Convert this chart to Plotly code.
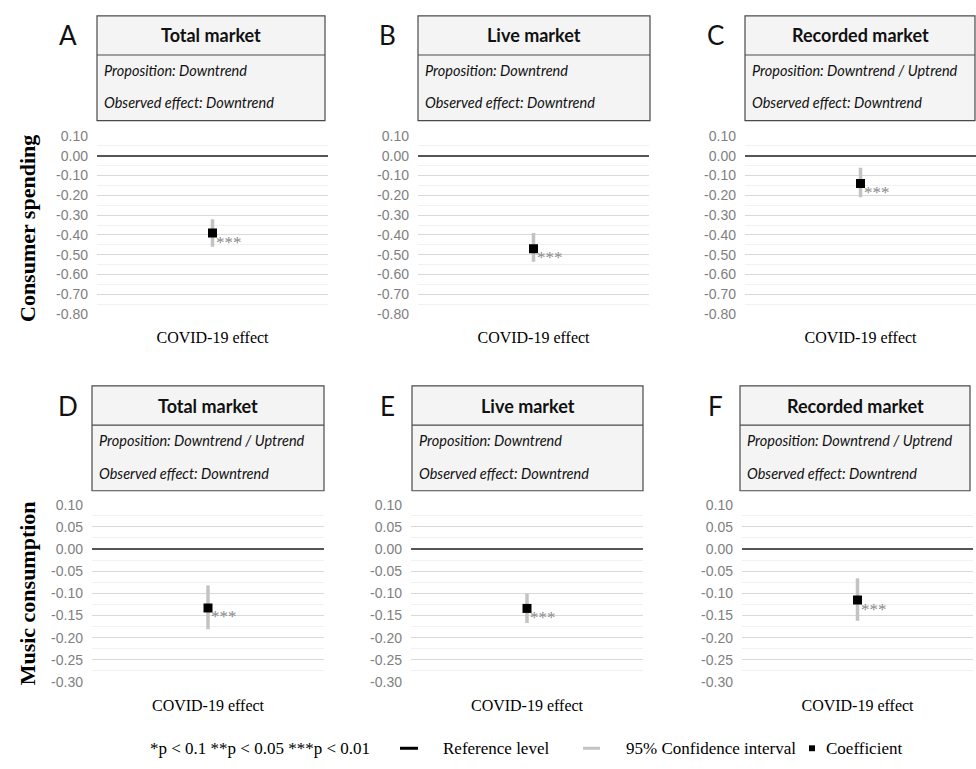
import plotly.graph_objects as go

# ---------------- data ----------------
panel_letters = ["A", "B", "C", "D", "E", "F"]
market_titles = ["Total market", "Live market", "Recorded market",
                 "Total market", "Live market", "Recorded market"]
propositions = ["Downtrend", "Downtrend", "Downtrend / Uptrend",
                "Downtrend / Uptrend", "Downtrend", "Downtrend / Uptrend"]
observed_effects = ["Downtrend", "Downtrend", "Downtrend",
                    "Downtrend", "Downtrend", "Downtrend"]
category = ["COVID-19 effect"]
coefficients = [-0.39, -0.47, -0.14, -0.133, -0.134, -0.115]
ci_low = [-0.46, -0.535, -0.21, -0.181, -0.167, -0.162]
ci_high = [-0.32, -0.39, -0.06, -0.082, -0.100, -0.066]
significance = ["***", "***", "***", "***", "***", "***"]
row_labels = ["Consumer spending", "Music consumption"]

top_tick_vals = [0.10, 0.00, -0.10, -0.20, -0.30, -0.40, -0.50, -0.60, -0.70, -0.80]
top_tick_text = ["0.10", "0.00", "-0.10", "-0.20", "-0.30", "-0.40", "-0.50", "-0.60", "-0.70", "-0.80"]
bot_tick_vals = [0.10, 0.05, 0.00, -0.05, -0.10, -0.15, -0.20, -0.25, -0.30]
bot_tick_text = ["0.10", "0.05", "0.00", "-0.05", "-0.10", "-0.15", "-0.20", "-0.25", "-0.30"]

legend_note = "*p < 0.1 **p < 0.05 ***p < 0.01"
legend_labels = ["Reference level", "95% Confidence interval", "Coefficient"]

# ---------------- layout geometry (pixels) ----------------
W, H = 976, 769
def fx(x): return x / W
def fy(y): return 1 - y / H

plot_x = [(97, 328), (418, 649), (745, 976), (92, 324), (411, 643), (742, 973)]
plot_y = [(130.7, 312.7), (507.3, 688.3)]
box_x = [(97, 325), (418, 650), (745, 975), (92, 324), (412, 643), (740, 970)]
box_y = [(8, 48, 115), (386, 426, 493)]
letter_x = [68, 387, 715, 68, 387, 715]

fig = go.Figure()
shapes = []
annotations = []
layout_axes = {}

for i in range(6):
    row = 0 if i < 3 else 1
    n = i + 1
    xa = "x" if n == 1 else f"x{n}"
    ya = "y" if n == 1 else f"y{n}"
    # CI line
    fig.add_trace(go.Scatter(
        x=[category[0], category[0]], y=[ci_low[i], ci_high[i]],
        mode="lines", line=dict(color="#c3c3c3", width=3.5),
        xaxis=xa, yaxis=ya, showlegend=False, hoverinfo="skip"))
    # coefficient
    fig.add_trace(go.Scatter(
        x=category, y=[coefficients[i]], mode="markers",
        marker=dict(symbol="square", size=9, color="black"),
        xaxis=xa, yaxis=ya, showlegend=False))
    # stars
    annotations.append(dict(
        x=0, y=coefficients[i], xref=xa, yref=ya, text=significance[i],
        showarrow=False, xanchor="left", yanchor="middle", xshift=1, yshift=-9,
        font=dict(family="Liberation Serif", size=17, color="#8a8a8a")))

    if row == 0:
        tv, tt, rng, mdt = top_tick_vals, top_tick_text, [-0.8, 0.1], 0.05
    else:
        tv, tt, rng, mdt = bot_tick_vals, bot_tick_text, [-0.3, 0.1], 0.025
    py0, py1 = plot_y[row]
    px0, px1 = plot_x[i]
    xkey = "xaxis" if n == 1 else f"xaxis{n}"
    ykey = "yaxis" if n == 1 else f"yaxis{n}"
    layout_axes[xkey] = dict(
        domain=[fx(px0), fx(px1)], anchor=ya, type="category",
        categoryarray=category, range=[-0.5, 0.5], showgrid=False,
        zeroline=False, showline=False, ticks="", ticklabelstandoff=12,
        tickfont=dict(family="Liberation Serif", size=16, color="black"))
    layout_axes[ykey] = dict(
        domain=[fy(py1), fy(py0)], anchor=xa, range=rng,
        tickmode="array", tickvals=tv, ticktext=tt,
        showgrid=True, gridcolor="#d9d9d9", gridwidth=1,
        zeroline=True, zerolinecolor="#555555",
        zerolinewidth=2 if row == 0 else 1.6,
        showline=False, ticks="", ticklabelstandoff=8,
        tickfont=dict(family="Liberation Sans", size=14, color="#7f7f7f"),
        minor=dict(dtick=mdt, tick0=0, showgrid=True, gridcolor="#f1f1f1", gridwidth=1))

    # header box
    bx0, bx1 = box_x[i]
    by0, bymid, by1 = box_y[row]
    shapes.append(dict(type="rect", xref="paper", yref="paper",
                       x0=fx(bx0), x1=fx(bx1), y0=fy(by1), y1=fy(by0),
                       fillcolor="#f4f4f4", line=dict(color="#4a4a4a", width=1.2), layer="below"))
    shapes.append(dict(type="line", xref="paper", yref="paper",
                       x0=fx(bx0), x1=fx(bx1), y0=fy(bymid), y1=fy(bymid),
                       line=dict(color="#4a4a4a", width=1.2)))
    annotations.append(dict(
        x=fx((bx0 + bx1) / 2), y=fy((by0 + bymid) / 2), xref="paper", yref="paper",
        text=f"<b>{market_titles[i]}</b>", showarrow=False, xanchor="center", yanchor="middle",
        font=dict(family="Lato", size=18, color="#111111")))
    annotations.append(dict(
        x=fx(bx0 + 5), y=fy(bymid + 16), xref="paper", yref="paper",
        text=f"<i>Proposition: {propositions[i]}</i>", showarrow=False,
        xanchor="left", yanchor="middle",
        font=dict(family="Lato", size=14.5, color="#111111")))
    annotations.append(dict(
        x=fx(bx0 + 5), y=fy(bymid + 49), xref="paper", yref="paper",
        text=f"<i>Observed effect: {observed_effects[i]}</i>", showarrow=False,
        xanchor="left", yanchor="middle",
        font=dict(family="Lato", size=14.5, color="#111111")))
    annotations.append(dict(
        x=fx(letter_x[i]), y=fy((by0 + bymid) / 2), xref="paper", yref="paper",
        text=panel_letters[i], showarrow=False, xanchor="center", yanchor="middle",
        font=dict(family="Lato", size=26, color="#111111")))

# row labels
for r, ylab in enumerate(row_labels):
    py0, py1 = plot_y[r]
    annotations.append(dict(
        x=fx(27), y=fy((py0 + py1) / 2 + (4 if r == 0 else 0)), xref="paper", yref="paper",
        text=f"<b>{ylab}</b>", textangle=-90, showarrow=False,
        xanchor="center", yanchor="middle",
        font=dict(family="Liberation Serif", size=22, color="black")))

# custom legend
ly = 756
lfont = dict(family="Liberation Serif", size=17, color="black")
annotations.append(dict(x=fx(148), y=fy(ly), xref="paper", yref="paper", text=legend_note,
                        showarrow=False, xanchor="left", yanchor="middle", font=lfont))
shapes.append(dict(type="line", xref="paper", yref="paper", x0=fx(400), x1=fx(418),
                   y0=fy(ly), y1=fy(ly), line=dict(color="black", width=3)))
annotations.append(dict(x=fx(441), y=fy(ly), xref="paper", yref="paper", text=legend_labels[0],
                        showarrow=False, xanchor="left", yanchor="middle", font=lfont))
shapes.append(dict(type="line", xref="paper", yref="paper", x0=fx(583), x1=fx(600),
                   y0=fy(ly), y1=fy(ly), line=dict(color="#c3c3c3", width=3)))
annotations.append(dict(x=fx(624), y=fy(ly), xref="paper", yref="paper", text=legend_labels[1],
                        showarrow=False, xanchor="left", yanchor="middle", font=lfont))
shapes.append(dict(type="rect", xref="paper", yref="paper", x0=fx(809), x1=fx(815),
                   y0=fy(ly + 3), y1=fy(ly - 3), fillcolor="black", line=dict(width=0)))
annotations.append(dict(x=fx(824), y=fy(ly), xref="paper", yref="paper", text=legend_labels[2],
                        showarrow=False, xanchor="left", yanchor="middle", font=lfont))

fig.update_layout(
    width=W, height=H, margin=dict(l=0, r=0, t=0, b=0),
    paper_bgcolor="white", plot_bgcolor="white",
    showlegend=False, shapes=shapes, annotations=annotations,
    **layout_axes)

fig.write_html("out.html", config={"displayModeBar": False},
               post_script="document.body.style.margin='0';document.body.style.overflow='hidden';")
